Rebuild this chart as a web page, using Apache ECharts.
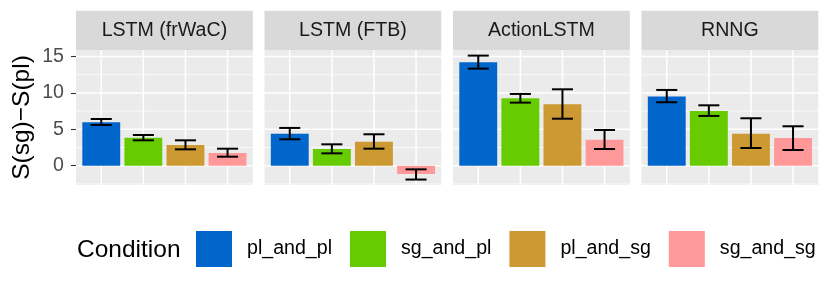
<!DOCTYPE html>
<html><head><meta charset="utf-8">
<script src="https://cdn.jsdelivr.net/npm/echarts@6/dist/echarts.min.js"></script>
<style>html,body{margin:0;padding:0;background:#fff}#c{width:830px;height:294px}</style>
</head><body><div id="c"></div>
<script>
// ---- data ----
const models = ['LSTM (frWaC)', 'LSTM (FTB)', 'ActionLSTM', 'RNNG'];
const conditions = ['pl_and_pl', 'sg_and_pl', 'pl_and_sg', 'sg_and_sg'];
const meanFrWaC = [5.97, 3.85, 2.85, 1.75];
const lowFrWaC  = [5.60, 3.49, 2.25, 1.24];
const highFrWaC = [6.42, 4.22, 3.49, 2.34];
const meanFTB = [4.40, 2.30, 3.30, -1.14];
const lowFTB  = [3.63, 1.70, 2.34, -1.90];
const highFTB = [5.19, 2.94, 4.32, -0.50];
const meanAction = [14.22, 9.27, 8.45, 3.58];
const lowAction  = [13.34, 8.67, 6.46, 2.30];
const highAction = [15.13, 9.86, 10.50, 4.91];
const meanRNNG = [9.50, 7.52, 4.40, 3.81];
const lowRNNG  = [8.72, 6.84, 2.43, 2.16];
const highRNNG = [10.41, 8.30, 6.52, 5.42];
const yTicks = [0, 5, 10, 15];
const yMinor = [-2.5, 2.5, 7.5, 12.5];
const yTitle = 'S(sg)\u2212S(pl)';
const legendTitle = 'Condition';

// ---- styles / layout ----
const colors = ['#0066CC', '#66CC00', '#CC9933', '#FF9999'];
const FONT = '"Liberation Sans", Arial, Helvetica, sans-serif';
const yMin = -2.65, yMax = 15.9, xMin = 0.4, xMax = 4.6;
const panelLeft = [76, 264.5, 453, 641.5];
const panelW = 176.8, panelTop = 50, panelH = 135;
const stripTop = 10.7, stripH = panelTop - stripTop;

const means = [meanFrWaC, meanFTB, meanAction, meanRNNG];
const lows = [lowFrWaC, lowFTB, lowAction, lowRNNG];
const highs = [highFrWaC, highFTB, highAction, highRNNG];

const grids = [], xAxes = [], yAxes = [], series = [], graphics = [];

function hLine(params, api) {
  const cs = params.coordSys;
  const y = api.coord([1, api.value(0)])[1];
  return { type: 'line', silent: true,
    shape: { x1: cs.x, y1: y, x2: cs.x + cs.width, y2: y },
    style: { stroke: '#FFFFFF', lineWidth: api.value(1) ? 1.5 : 0.75 } };
}
function vLine(params, api) {
  const cs = params.coordSys;
  const x = api.coord([api.value(0), 0])[0];
  return { type: 'line', silent: true,
    shape: { x1: x, y1: cs.y, x2: x, y2: cs.y + cs.height },
    style: { stroke: '#FFFFFF', lineWidth: 1.5 } };
}
function barItem(params, api) {
  const x = api.value(0), m = api.value(1), lo = api.value(2), hi = api.value(3);
  const a = api.coord([x - 0.45, Math.max(0, m)]);
  const b = api.coord([x + 0.45, Math.min(0, m)]);
  const pl = api.coord([x, lo]), ph = api.coord([x, hi]);
  const cl = api.coord([x - 0.25, lo]), cr = api.coord([x + 0.25, lo]);
  const hl = api.coord([x - 0.25, hi]), hr = api.coord([x + 0.25, hi]);
  const es = { stroke: '#000000', lineWidth: 2 };
  return { type: 'group', children: [
    { type: 'rect', shape: { x: a[0], y: a[1], width: b[0] - a[0], height: b[1] - a[1] },
      style: { fill: api.visual('color') } },
    { type: 'line', shape: { x1: pl[0], y1: pl[1], x2: ph[0], y2: ph[1] }, style: es },
    { type: 'line', shape: { x1: cl[0], y1: cl[1], x2: cr[0], y2: cr[1] }, style: es },
    { type: 'line', shape: { x1: hl[0], y1: hl[1], x2: hr[0], y2: hr[1] }, style: es }
  ]};
}

models.forEach((name, i) => {
  grids.push({ left: panelLeft[i], top: panelTop, width: panelW, height: panelH,
    show: true, backgroundColor: '#EBEBEB', borderWidth: 0, containLabel: false });
  xAxes.push({ type: 'value', gridIndex: i, min: xMin, max: xMax, show: false });
  yAxes.push({ type: 'value', gridIndex: i, min: yMin, max: yMax, splitNumber: 4,
    show: i === 0,
    axisLine: { show: false },
    axisTick: { show: i === 0, length: 5, customValues: yTicks, lineStyle: { color: '#333333', width: 1.1 } },
    axisLabel: { show: i === 0, customValues: yTicks, color: '#4D4D4D', fontSize: 19.6, fontFamily: FONT, margin: 12 },
    splitLine: { show: false }
  });
  series.push({ type: 'custom', xAxisIndex: i, yAxisIndex: i, silent: true, z: 1,
    data: yTicks.map(v => [v, 1]).concat(yMinor.map(v => [v, 0])),
    encode: { x: -1, y: 0 }, renderItem: hLine });
  series.push({ type: 'custom', xAxisIndex: i, yAxisIndex: i, silent: true, z: 1,
    data: conditions.map((c, k) => [k + 1]),
    encode: { x: 0 }, renderItem: vLine });
  conditions.forEach((c, k) => {
    series.push({ type: 'custom', name: c, xAxisIndex: i, yAxisIndex: i, z: 2,
      itemStyle: { color: colors[k] },
      data: [[k + 1, means[i][k], lows[i][k], highs[i][k]]],
      encode: { x: 0, y: [1, 2, 3] }, renderItem: barItem });
  });
  graphics.push({ type: 'rect', shape: { x: panelLeft[i], y: stripTop, width: panelW, height: stripH },
    style: { fill: '#D9D9D9' }, silent: true });
  graphics.push({ type: 'text', x: panelLeft[i] + panelW / 2, y: stripTop + stripH / 2 + 0.5,
    style: { text: name, fill: '#1A1A1A', font: '19.6px ' + FONT, align: 'center', verticalAlign: 'middle' } });
});

graphics.push({ type: 'text', x: 22.5, y: panelTop + panelH / 2, rotation: Math.PI / 2,
  style: { text: yTitle, fill: '#000000', font: '24.5px ' + FONT, align: 'center', verticalAlign: 'middle' } });
graphics.push({ type: 'text', x: 77, y: 250,
  style: { text: legendTitle, fill: '#000000', font: '24.5px ' + FONT, align: 'left', verticalAlign: 'middle' } });

const chart = echarts.init(document.getElementById('c'), null, { renderer: 'canvas' });
chart.setOption({
  animation: false,
  backgroundColor: '#FFFFFF',
  grid: grids, xAxis: xAxes, yAxis: yAxes, series: series,
  legend: { data: conditions, left: 196, top: 231, padding: 0, itemWidth: 36, itemHeight: 36, itemGap: 18,
    icon: 'rect', selectedMode: false,
    textStyle: { fontSize: 19.6, color: '#000000', fontFamily: FONT, padding: [0, 0, 0, 10] } },
  graphic: graphics,
  tooltip: { show: false }
});
</script></body></html>
